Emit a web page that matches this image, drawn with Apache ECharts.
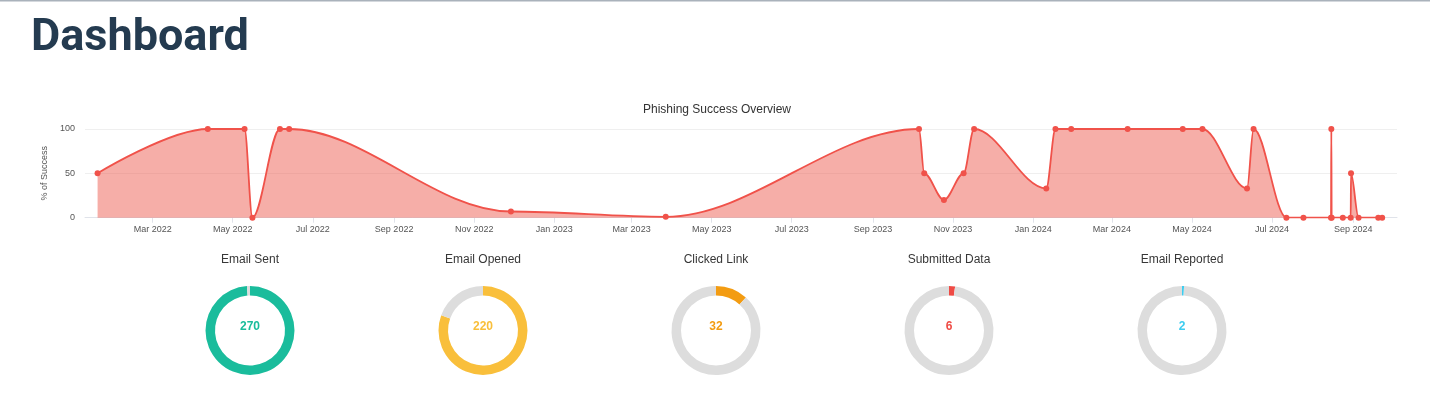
<!DOCTYPE html>
<html><head><meta charset="utf-8">
<script src="https://cdn.jsdelivr.net/npm/echarts@6/dist/echarts.min.js"></script>
<style>html,body{margin:0;padding:0;background:#fff;overflow:hidden}#c{width:1430px;height:419px;}</style>
</head><body><div id="c"></div>
<script>
// ---- data ----
const pointDates = [
  '2022-01-18','2022-04-12','2022-05-10','2022-05-16','2022-06-06','2022-06-13',
  '2022-11-29','2023-03-27','2023-10-06','2023-10-10','2023-10-25','2023-11-09',
  '2023-11-17','2024-01-11','2024-01-18','2024-01-30','2024-03-13','2024-04-24',
  '2024-05-09','2024-06-12','2024-06-17','2024-07-12','2024-07-25',
  '2024-08-15T00','2024-08-15T06','2024-08-15T12','2024-08-24',
  '2024-08-30T00','2024-08-30T06','2024-09-05','2024-09-20','2024-09-23'
];
const successPct = [
  50,100,100,0,100,100,
  7,1,100,50,20,50,
  100,33,100,100,100,100,
  100,33,100,0,0,
  0,100,0,0,
  0,50,0,0,0
];
const xTickDates = ['2022-03-01','2022-05-01','2022-07-01','2022-09-01','2022-11-01',
  '2023-01-01','2023-03-01','2023-05-01','2023-07-01','2023-09-01','2023-11-01',
  '2024-01-01','2024-03-01','2024-05-01','2024-07-01','2024-09-01'];
const monthNames = ['Jan','Feb','Mar','Apr','May','Jun','Jul','Aug','Sep','Oct','Nov','Dec'];
const yTicks = [0, 50, 100];
const donutNames = ['Email Sent','Email Opened','Clicked Link','Submitted Data','Email Reported'];
const donutValues = [270, 220, 32, 6, 2];
const donutTotal = 273;
const donutColors = ['#1abc9c','#f9bf3b','#f39c12','#ef4b45','#3dcdf0'];

// ---- helpers ----
function toTs(s){
  const parts = s.split('T');
  const [y,m,d] = parts[0].split('-').map(Number);
  const h = parts[1] ? Number(parts[1]) : 0;
  return new Date(y, m-1, d, h).getTime();
}
const seriesData = pointDates.map((d,i)=>[toTs(d), successPct[i]]);
const tickTs = xTickDates.map(toTs);

const chart = echarts.init(document.getElementById('c'), null, {renderer:'canvas'});
const FONT = 'Liberation Sans, Arial, sans-serif';

const pies = donutNames.map((n,i)=>({
  type:'pie', silent:true, startAngle:90, clockwise:true,
  radius:[35, 44.5], center:[250 + i*233, 330.5],
  label:{show:false}, labelLine:{show:false},
  emphasis:{disabled:true}, animation:false,
  data:[
    {name:n, value:donutValues[i], itemStyle:{color:donutColors[i]}},
    {name:'rest', value:donutTotal - donutValues[i], itemStyle:{color:'#dddddd'}}
  ]
}));

const graphics = [
  {type:'rect', shape:{x:0,y:0,width:1430,height:1.5}, style:{fill:'#aab2bb'}},
  {type:'text', x:31, y:38.5, style:{text:'Dashboard', font:'bold 45px Roboto', fill:'#243b50', align:'left', verticalAlign:'middle'}},
  {type:'text', x:717, y:110, style:{text:'Phishing Success Overview', font:'12px '+FONT, fill:'#333', align:'center', verticalAlign:'middle'}}
];
donutNames.forEach((n,i)=>{
  graphics.push({type:'text', x:250+i*233, y:259.7, style:{text:n, font:'12px '+FONT, fill:'#373737', align:'center', verticalAlign:'middle'}});
  graphics.push({type:'text', x:250+i*233, y:326.7, style:{text:String(donutValues[i]), font:'bold 12px '+FONT, fill:donutColors[i], align:'center', verticalAlign:'middle'}});
});

chart.setOption({
  animation:false,
  textStyle:{fontFamily:FONT},
  grid:{left:85, right:33, top:129, bottom:201.3, containLabel:false},
  xAxis:{
    type:'value', scale:true,
    min:toTs('2022-01-08T10'), max:toTs('2024-10-04T07'),
    axisLine:{show:true, lineStyle:{color:'#e0e3ea', width:1}},
    axisTick:{show:true, customValues:tickTs, length:5, lineStyle:{color:'#e0e3ea'}},
    splitLine:{show:false},
    axisLabel:{
      customValues:tickTs, fontSize:9, color:'#555', margin:7, fontFamily:FONT,
      formatter:function(v){ const d=new Date(v); return monthNames[d.getMonth()]+' '+d.getFullYear(); }
    }
  },
  yAxis:{
    type:'value', min:yTicks[0], max:yTicks[yTicks.length-1], interval:50,
    name:'% of Success', nameLocation:'middle', nameRotate:90, nameGap:34,
    nameTextStyle:{fontSize:9, color:'#555', fontFamily:FONT},
    axisLine:{show:false}, axisTick:{show:false},
    axisLabel:{fontSize:9, color:'#555', margin:10, fontFamily:FONT},
    splitLine:{lineStyle:{color:'#efefef'}}
  },
  series:[{
    type:'line', data:seriesData, smooth:0.34, smoothMonotone:'x', showAllSymbol:true,
    symbol:'circle', symbolSize:6,
    lineStyle:{color:'#f0524a', width:1.8},
    itemStyle:{color:'#f0524a'},
    areaStyle:{color:'rgba(236,86,74,0.48)', opacity:1},
    silent:true
  }].concat(pies),
  graphic:graphics
});
</script></body></html>
